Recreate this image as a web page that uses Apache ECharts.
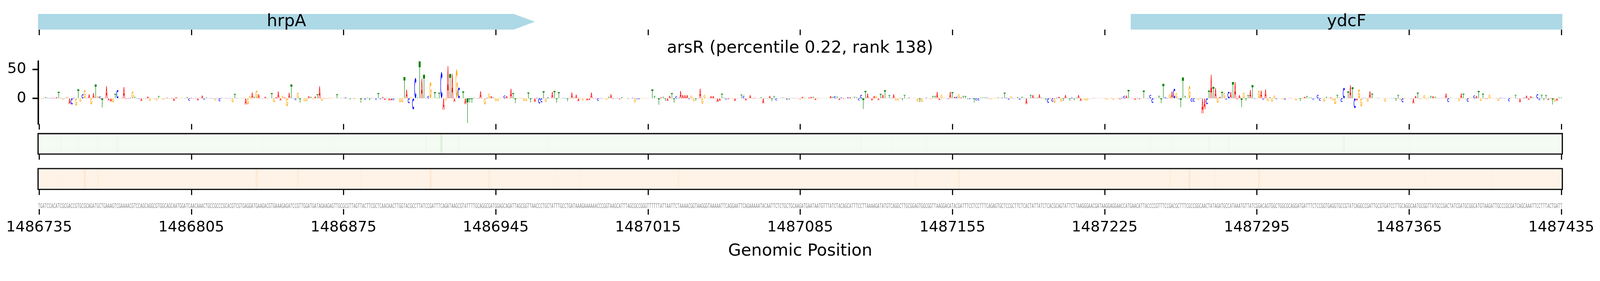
<!DOCTYPE html>
<html><head><meta charset="utf-8">
<script src="https://cdn.jsdelivr.net/npm/echarts@6.0.0/dist/echarts.min.js"></script>
<style>html,body{margin:0;padding:0;background:#fff;overflow:hidden}#c{width:100vw;height:100vh}</style>
</head><body><div id="c"></div><script>
// ---------------- data ----------------
const START = 1486735;
const TICKS = [1486735,1486805,1486875,1486945,1487015,1487085,1487155,1487225,1487295,1487365,1487435];
const TITLE = 'arsR (percentile 0.22, rank 138)';
const X_NAME = 'Genomic Position';
const Y_TICKS = [0, 50];
const GENE_NAMES = ['hrpA', 'ydcF'];
const GENE_STARTS = [1486600, 1487237];
const GENE_ENDS = [1486963, 1487700];

const SEQ_1 = 'TGATCCACATCGCGACCGTGCGCAGATGCTGAAAGTCGAAAACGTCCAGCAGGCGTGGCAGCAATGGATCAACAAACTGCCGCCCGCA';
const SEQ_2 = 'CGTCGTGAGGATGAAGACGTGAAAGAGATCCGTTGGATGATAGAAGAGTTGCGCGTTAGTTACTTCGCTCAACAACTTGGTACGCCTTA';
const SEQ_3 = 'TCCGATTTCAGATAAGCGTATTTTGCAGGCGATGGAGCAGATTAGCGGTTAACCCTGCTATTTGCCTGATAAAGAAAAAACCCGGTAA';
const SEQ_4 = 'GCATTTAGCGCCGGGTTTTTTATTAATTCTAAAACGGTAAGGGTAAAAATTCAGGAATTCAGAAAAATACAATTCTCTGCTGCAAGATG';
const SEQ_5 = 'AATAATGTTTATCTACAGCATTTCCTTAAAAGATATGTCAGGCTTGCGGAGTGGCGGTTAAGGACATACGATTTCCTCCTTTCAGAGT';
const SEQ_6 = 'GCTCCGCTTCTCACTATTATCTCACGCAGTATTCTTAAGGGAACGATAAGGAGGAACCATGAACATTACCCCGTTTCCGACGCTTTCGC';
const SEQ_7 = 'CGGCAACTATAGATGCCATAAATGTTATCGGACAGTGGCTGGCGCAGGATGATTTCTCCGGTGAGGTGCCGTATCAGGCCGATTGCGTG';
const SEQ_8 = 'ATCCTTGCAGGCAATGCGGTTATGCCGACTATCGATGCGGCATGTAAGATTGCCCGCGATCAGCAAATTCCTTTACTGATT';

const LOGO_1 = [0.5,-1,0.5,2,0.5,0.5,1,0.5,2,11.2,
 0.5,-2,0.5,2.5,-10,-10.5,1,-12.7,15.4,-5.7,
 7,14.3,0.5,7,-10.5,9,23.8,4,3.5,-15.6,
 0.5,21,-3.6,-5.7,-6.7,7.6,14.3,-1,0.5,19.6,
 -1,-0.7,1,11.8,2.7,-0.5,-1,-4.6,-1,0.5,
 3.2,-4.2,0.5,-0.5,-3.6,3.8,0.5,-2,0.5,1,
 -0.5,0.5,-4.6,2,0.5,0.5,0.5,0.5,2,-4,
 1,-0.5,0.5,-3.5,0.5,4.8,-2.5,1.7,0.7,0.5,
 -0.5,-3.5,0.5,-5,0.7,0.5,0.5,0.5];
const LOGO_2 = [0.5,-6.7,
 7.6,0.5,0.5,0.5,0.8,-10.5,-10.5,4,10,2.7,
 13.3,7,-0.5,-1,2.7,0.3,0.3,9,-6.7,2,
 11.8,-3.6,4.4,1.5,-13.5,9.7,23.8,0.5,-3,9.7,
 -7.8,0.3,-5,-5,3.8,2.7,-1.5,3.4,7,20.7,
 -4.2,0.7,-0.5,1,0.5,0.5,0.5,7,0.3,0.3,
 1,1.5,-0.5,-2,0.5,-1,0.3,0.3,-7.8,0.5,
 -2.5,1,-3.6,0.5,0.5,-2.5,9,-1.5,2,-3,
 0.5,-3.6,-3.6,-3,0.3,0.5,-6.7,-6.7,36.5,14.8,
 -8.4,1.7,-19,35,1.5,63.5,34];
const LOGO_3 = [40.5,0.5,4,
 28,0.3,10.5,1,9.7,45,-19.4,-3.6,55.5,41.8,
 42,-5.7,50,18.6,1,11.8,-10,-42.6,-7.8,-7.8,
 1,-0.5,-0.5,12.2,-0.5,-10.5,1,8,3.8,1.5,
 -4.6,-4.6,0.5,0.3,4.8,4.2,-0.5,16.5,9,-8.4,
 0.3,1,0.3,-4.6,-4.6,10,-7,0.5,-6.3,1,
 -8.9,-6.7,12.2,-6.3,1.7,0.5,11.2,12.7,-7.8,10.5,
 -1,0.5,0.5,-5,0.7,10,1,6.3,-5,0.5,
 -3.6,0.3,-3.5,-3,10,-0.5,0.5,-4,-0.5,-0.5,
 0.5,-2.5,2.7,7,-1];
const LOGO_4 = [0.5,0.5,-1.5,2,0.3,
 0.3,-1,0.3,1,-6.7,-1.5,-1.5,0.5,0.5,0.5,
 0.5,0.5,15.4,3.8,0.5,-11,1.7,2.7,-4.6,-4.6,
 4.2,9,-7.8,3.8,1,12.7,5.9,5.9,5.9,-1.5,
 4.8,-5,-4.2,-0.5,16.5,-9.3,5.9,0.5,0.5,4.2,
 4.2,-0.5,-6.3,-4.6,8,1,-2,-1.5,0.5,0.5,
 -4.6,-0.5,0.3,6.3,4.2,-3.6,0.5,5.5,-0.5,1,
 0.3,-0.5,2,-8.9,0.3,-0.5,4.2,-5,3.8,-3.6,
 0.3,0.3,1.5,1,-2.5,-2.5,0.5,0.5,0.5,0.5,
 -2.5,2.7,1,0.3];
const LOGO_5 = [1.5,2.7,2.7,-3,0.7,0.5,
 0.5,0.5,0.5,0.5,4.2,2.7,3.8,2.7,-3,1.5,
 -1,0.5,2,2,0.7,2.7,1.5,-3.6,5.9,-18.4,
 12.7,8,0.5,-3.6,4.2,4.2,-3,7.6,6.3,13.9,
 0.5,5.5,0.7,7,-3.6,-3.6,0.5,-3.6,5.9,-1,
 1,0.7,0.5,0.3,-5.7,-6.7,-6.3,0.3,1,-0.5,
 -1.5,3.8,3.8,11.2,-3,6.3,0.5,0.3,-1,11.2,
 10.5,2.7,2.7,7,1.5,3.8,3.8,-1.5,-1.5,0.5,
 -7,-3.6,-3.6,1,1.5,1.5,1,-0.7,-1.5,0.3,
 1,1.5];
const LOGO_6 = [1,1,9.7,1,-2.5,3.8,0.5,0.5,
 2,-2.5,2.7,0.5,-10,0.3,5.9,5.9,1,1,
 7,1,0.5,-3.6,-7.8,0.7,-5.7,-7.8,1,2.7,
 -5.7,-4.6,5.9,0.5,-4.6,1.5,-3.6,1,5.9,-4.6,
 -1,-3.6,-3.6,-0.5,0.3,0.5,0.5,0.3,0.3,0.3,
 0.5,-2.5,0.3,0.5,-2.5,0.3,0.5,-1.5,1,4.2,
 4.8,14.3,0.5,0.5,-2.5,0.5,-1.5,0.5,13.3,-0.5,
 -0.5,5.9,-7.8,0.3,0.5,4.2,-8.4,24.9,2,-0.5,
 7,11.8,16.5,9,-1,-15.2,35.9,3.8,0.5,21,
 -5.7];
const LOGO_7 = [-5.7,0.5,-2.5,0.5,-25.7,-18.4,-10,13.3,40.7,
 19.6,17.5,-7.8,2.7,11.2,9.7,-2.5,11.2,11.2,28,
 28,-1.5,5.5,-15.2,9.7,-4.6,5.5,14.3,22.8,-1,
 -0.5,13.3,13.3,-2.5,15.4,-4.6,2,-5.7,4.8,-1.5,
 0.5,-0.5,-1.5,-2.5,0.3,0.3,0.5,0.3,-3.6,0.3,
 -4.6,1,2.7,3.8,1.5,1.5,-2.5,0.5,5.9,-4.2,
 0.5,-5.7,2.7,1,1.5,-3.6,-10,5.9,1,-6.3,
 18.1,0.5,11.8,22.8,19,-16.9,-3.6,15.4,-14.1,0.7,
 0.5,-5.7,12.2,8,0.3,0.7,0.5,0.3,0.3,-5.7];
const LOGO_8 = [0.5,0.5,0.3,0.5,-4.6,5.9,-2.5,-6.7,0.5,0.3,
 0.3,-0.5,-8.9,4.2,9.7,-1.5,0.3,5.5,-1.5,1,
 3.8,3.8,2.7,1,0.3,0.3,0.5,8.4,-6.3,1,
 0.3,0.3,0.3,-4.6,8.4,8,-1.5,-5.7,1,1,
 4.8,4.2,12.7,-4.6,8,-1,-1,6.3,0.5,0.3,
 0.7,-4.6,1,0.5,0.5,0.3,-5,1,0.3,5.9,
 -0.5,-7,0.5,1,4.8,-2.5,3.8,1,0.3,7,
 -3,5.9,-3.6,5.5,-3,0.5,-10.5,-5.7,-4,1.5,
 1.5];

// faint per-position heat tracks: baseline level plus the visible stripes [offset, level]
const GREEN_BASE = 0.02;
const GREEN_STRIPES = [[10,0.04],[18,0.04],[27,0.03],[36,0.07],[99,0.03],[103,0.03],[112,0.03],[134,0.03],
 [178,0.05],[185,0.16],[193,0.04],[214,0.03],[234,0.04],[378,0.04],[392,0.03],[408,0.04],[511,0.04],
 [521,0.04],[538,0.06],[547,0.05],[600,0.07],[630,0.03],[659,0.03],[682,0.03]];
const ORANGE_BASE = 0.015;
const ORANGE_STRIPES = [[10,0.03],[21,0.1],[27,0.05],[100,0.09],[119,0.07],[148,0.04],[180,0.1],[207,0.07],
 [238,0.035],[249,0.035],[294,0.05],[403,0.05],[423,0.07],[520,0.05],[529,0.1],[541,0.04],[561,0.09],
 [637,0.035],[668,0.03]];

// ---------------- styles / layout (designed for 4320x720, scaled to the real viewport) ----------------
const K = (window.innerWidth || 4320) / 4320;
const S = v => v * K;
const FONT = 'DejaVu Sans';
const BASES = 'ACGT';
const BASE_COLORS = {A: '#ff0000', C: '#0000ff', G: '#ffa500', T: '#008000'};
const GREENS = ['#f7fcf5','#e5f5e0','#c7e9c0','#a1d99b','#74c476','#41ab5d','#238b45','#006d2c','#00441b'];
const ORANGES = ['#fff5eb','#fee6ce','#fdd0a2','#fdae6b','#fd8d3c','#f16913','#d94801','#a63603','#7f2704'];
const PLOT_LEFT = S(102.7), PLOT_WIDTH = S(4115.7);
const G_GENE = {top: S(37.7), height: S(42.3)};
const G_LOGO = {top: S(165), height: S(170)};
const G_GREEN = {top: S(361), height: S(55.5)};
const G_ORANGE = {top: S(455.5), height: S(56.5)};
const G_SEQ = {top: S(551), height: S(14)};
const TICK_FONT = S(40);
const LABEL_FONT = S(45);
const LW = S(3);
const Y_LW = S(4);
const ARROW_PX = S(57);
const LETTER_HALF = 0.45;
const SEQ_SCALE_X = 0.47;

function arcPts(cx, cy, rx, ry, a0, a1, step) {
  const pts = []; const n = Math.ceil(Math.abs(a1 - a0) / step);
  for (let i = 0; i <= n; i++) {
    const a = (a0 + (a1 - a0) * i / n) * Math.PI / 180;
    pts.push([cx + rx * Math.cos(a), cy - ry * Math.sin(a)]);
  }
  return pts;
}
function toPath(pts) { return 'M' + pts.map(p => p[0].toFixed(2) + ',' + p[1].toFixed(2)).join(' L') + ' Z'; }
const GLYPH = {
  A: 'M0,100 L38,0 L62,0 L100,100 L77,100 L68,75 L32,75 L23,100 Z M39,57 L61,57 L50,29 Z',
  C: toPath(arcPts(50,50,50,50,45,315,5).concat(arcPts(50,50,29,31,315,45,5))),
  G: toPath(arcPts(50,50,50,50,40,350,5).concat([[100,58.7],[100,46],[54,46],[54,61]]).concat(arcPts(50,50,29,31,340,40,5))),
  T: 'M0,0 L100,0 L100,16 L61,16 L61,100 L39,100 L39,16 L0,16 Z'
};

// ---------------- build series data ----------------
const SEQUENCE = SEQ_1 + SEQ_2 + SEQ_3 + SEQ_4 + SEQ_5 + SEQ_6 + SEQ_7 + SEQ_8;
const LOGO_VALUES = [].concat(LOGO_1, LOGO_2, LOGO_3, LOGO_4, LOGO_5, LOGO_6, LOGO_7, LOGO_8);
const logoData = SEQUENCE.split('').map((b, i) => [START + i, LOGO_VALUES[i], BASES.indexOf(b)]);
const seqData = SEQUENCE.split('').map((b, i) => [START + i, BASES.indexOf(b)]);
function trackData(base, stripes) {
  const m = new Map(stripes);
  return SEQUENCE.split('').map((b, i) => [START + i, m.has(i) ? m.get(i) : base]);
}
const greenData = trackData(GREEN_BASE, GREEN_STRIPES);
const orangeData = trackData(ORANGE_BASE, ORANGE_STRIPES);
const geneData = GENE_NAMES.map((n, i) => [GENE_STARTS[i], GENE_ENDS[i], i]);

function centeredText(txt, size, fill) {
  return {text: txt, fontSize: size, fontFamily: FONT, fill: fill,
    align: 'center', verticalAlign: 'middle', textAlign: 'center', textVerticalAlign: 'middle'};
}

// ---------------- render functions ----------------
function renderGene(params, api) {
  const s = api.value(0), e = api.value(1), k = api.value(2);
  const cs = params.coordSys;
  const right = cs.x + cs.width;
  const x0 = Math.max(api.coord([s, 0.5])[0], cs.x);
  const xe = api.coord([e, 0.5])[0];
  const y0 = cs.y, y1 = cs.y + cs.height, ym = (y0 + y1) / 2;
  let pts, xVis;
  if (xe <= right) {
    const xb = Math.max(x0, xe - ARROW_PX);
    pts = [[x0, y0], [xb, y0], [xe, ym], [xb, y1], [x0, y1]]; xVis = xe;
  } else {
    pts = [[x0, y0], [right, y0], [right, y1], [x0, y1]]; xVis = right;
  }
  return {type: 'group', children: [
    {type: 'polygon', shape: {points: pts}, style: {fill: '#add8e6'}},
    {type: 'text', x: (x0 + xVis) / 2, y: ym, style: centeredText(GENE_NAMES[k], LABEL_FONT, '#000')}
  ]};
}
function renderLetter(params, api) {
  const x = api.value(0), v = api.value(1), b = BASES[api.value(2)];
  const a = api.coord([x - LETTER_HALF, 0]);
  const c = api.coord([x + LETTER_HALF, v]);
  const top = Math.min(a[1], c[1]);
  const h = Math.max(Math.abs(c[1] - a[1]), 0.4);
  return {type: 'path', shape: {pathData: GLYPH[b], x: a[0], y: top, width: c[0] - a[0], height: h, layout: 'cover'},
    style: {fill: BASE_COLORS[b]}};
}
function renderCell(params, api) {
  const x = api.value(0);
  const a = api.coord([x - 0.5, 0]), c = api.coord([x + 0.5, 0]);
  const cs = params.coordSys;
  return {type: 'rect', shape: {x: a[0], y: cs.y, width: c[0] - a[0] + 0.5, height: cs.height},
    style: {fill: api.visual('color')}};
}
function renderBase(params, api) {
  const x = api.value(0), b = BASES[api.value(1)];
  const p = api.coord([x, 0.5]);
  return {type: 'text', x: p[0], y: p[1], scaleX: SEQ_SCALE_X, style: centeredText(b, S(17), '#808080')};
}

// ---------------- axes ----------------
const tickStyle = {show: true, length: S(15), customValues: TICKS, lineStyle: {color: '#000', width: LW}};
function xAx(gi, withLabels) {
  const ax = {type: 'value', gridIndex: gi, min: START - 0.5, max: START + 700.5,
    axisLine: {show: false, onZero: false}, splitLine: {show: false},
    axisTick: tickStyle, axisLabel: {show: false}};
  if (withLabels) {
    ax.axisLabel = {show: true, customValues: TICKS, fontSize: TICK_FONT, fontFamily: FONT, color: '#000', margin: S(30),
      formatter: v => String(v)};
    ax.name = X_NAME; ax.nameLocation = 'middle'; ax.nameGap = S(91);
    ax.nameTextStyle = {fontSize: LABEL_FONT, fontFamily: FONT, color: '#000'};
  }
  return ax;
}
function grid(g) { return {left: PLOT_LEFT, width: PLOT_WIDTH, top: g.top, height: g.height, containLabel: false, outerBoundsMode: 'none'}; }
function hiddenY(gi) { return {type: 'value', gridIndex: gi, min: 0, max: 1, show: false}; }

function frame(g) {
  return [
    {type: 'rect', z: 100, silent: true, shape: {x: PLOT_LEFT + S(2.5), y: g.top + S(2.5), width: PLOT_WIDTH - S(5), height: g.height - S(5)},
      style: {fill: 'none', stroke: '#c4c4c4', lineWidth: S(1)}},
    {type: 'rect', z: 101, silent: true, shape: {x: PLOT_LEFT, y: g.top, width: PLOT_WIDTH, height: g.height},
      style: {fill: 'none', stroke: '#000', lineWidth: LW}}
  ];
}

const chart = echarts.init(document.getElementById('c'), null, {renderer: 'canvas'});
chart.setOption({
  backgroundColor: '#fff',
  animation: false,
  textStyle: {fontFamily: FONT},
  title: {text: TITLE, left: 'center', top: S(108), padding: 0,
    textStyle: {fontSize: LABEL_FONT, fontWeight: 'normal', color: '#000', fontFamily: FONT}},
  grid: [grid(G_GENE), grid(G_LOGO), grid(G_GREEN), grid(G_ORANGE), grid(G_SEQ)],
  xAxis: [xAx(0), xAx(1), xAx(2), xAx(3), xAx(4, true)],
  yAxis: [hiddenY(0),
    {type: 'value', gridIndex: 1, min: -44, max: 64, splitLine: {show: false},
      axisLine: {show: true, onZero: false, lineStyle: {color: '#000', width: Y_LW}},
      axisTick: {show: true, length: S(15), customValues: Y_TICKS, lineStyle: {color: '#000', width: Y_LW}},
      axisLabel: {show: true, customValues: Y_TICKS, fontSize: TICK_FONT, fontFamily: FONT, color: '#000', margin: S(32)}},
    hiddenY(2), hiddenY(3), hiddenY(4)],
  visualMap: [
    {type: 'continuous', show: false, seriesIndex: 2, dimension: 1, min: 0, max: 1, inRange: {color: GREENS}},
    {type: 'continuous', show: false, seriesIndex: 3, dimension: 1, min: 0, max: 1, inRange: {color: ORANGES}}
  ],
  graphic: [].concat(frame(G_GREEN), frame(G_ORANGE)),
  series: [
    {type: 'custom', xAxisIndex: 0, yAxisIndex: 0, renderItem: renderGene, data: geneData, encode: {x: [0, 1]}, silent: true},
    {type: 'custom', xAxisIndex: 1, yAxisIndex: 1, renderItem: renderLetter, data: logoData, encode: {x: 0, y: 1}, silent: true},
    {type: 'custom', xAxisIndex: 2, yAxisIndex: 2, renderItem: renderCell, data: greenData, encode: {x: 0, y: 1}, silent: true},
    {type: 'custom', xAxisIndex: 3, yAxisIndex: 3, renderItem: renderCell, data: orangeData, encode: {x: 0, y: 1}, silent: true},
    {type: 'custom', xAxisIndex: 4, yAxisIndex: 4, renderItem: renderBase, data: seqData, encode: {x: 0}, silent: true}
  ]
});
if (SEQUENCE.length !== 701 || LOGO_VALUES.length !== 701) {
  chart.setOption({graphic: [{type: 'text', left: 10, top: 10, z: 200, style: {text: 'LEN ' + SEQUENCE.length + ' ' + LOGO_VALUES.length, fontSize: 30, fill: 'red'}}]});
}
</script></body></html>
